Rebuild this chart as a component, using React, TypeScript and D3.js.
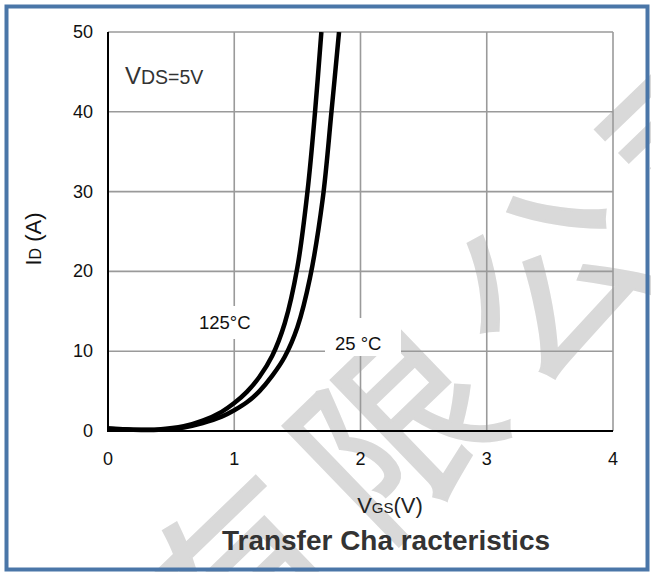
import React, { useEffect, useRef } from 'react';
import * as d3 from 'd3';

// Transfer characteristics
const vgs125 = [0, 0.2, 0.4, 0.6, 0.75, 0.9, 1.0, 1.1, 1.2, 1.3, 1.4, 1.5, 1.58, 1.64, 1.69];
const id125 = [0.3, 0.15, 0.2, 0.6, 1.3, 2.4, 3.5, 4.9, 6.8, 9.4, 13.5, 20.5, 30, 40, 50];
const vgs25 = [0, 0.2, 0.4, 0.6, 0.75, 0.9, 1.0, 1.1, 1.2, 1.3, 1.4, 1.5, 1.6, 1.7, 1.77, 1.83];
const id25 = [0.3, 0.15, 0.15, 0.45, 1.0, 1.8, 2.6, 3.6, 5.0, 6.9, 9.3, 13, 19.2, 29, 40, 50];

const xTicks = [0, 1, 2, 3, 4];
const yTicks = [0, 10, 20, 30, 40, 50];
const watermarkChars = ['有', '限', '公', '司'];

const App = () => {
    const ref = useRef<SVGSVGElement>(null);

    useEffect(() => {
        const width = 651;
        const height = 572;
        const margin = { top: 32, right: 38, bottom: 141, left: 108 };

        const svg = d3.select(ref.current);
        svg.selectAll('*').remove();

        const font = '"Liberation Sans", Arial, sans-serif';

        const x = d3.scaleLinear().domain([0, 4]).range([margin.left, width - margin.right]);
        const y = d3.scaleLinear().domain([0, 50]).range([height - margin.bottom, margin.top]);

        svg.append('rect').attr('width', width).attr('height', height).attr('fill', '#fff');

        // Watermark behind the chart
        const wm = svg.append('g').attr('fill', '#d9d9d9').attr('stroke', '#d9d9d9').attr('stroke-width', 3);
        watermarkChars.forEach((c, i) => {
            wm.append('text')
                .attr('transform', `translate(${232 + i * 155}, ${572 - i * 150}) rotate(-44)`)
                .attr('text-anchor', 'middle')
                .attr('dominant-baseline', 'central')
                .attr('font-family', '"Noto Sans CJK SC", sans-serif')
                .attr('font-size', 190)
                .text(c);
        });

        // Grid
        const grid = svg.append('g').attr('stroke', '#9a9a9a').attr('stroke-width', 1.6);
        grid.selectAll('.gx')
            .data(xTicks.slice(1))
            .enter()
            .append('line')
            .attr('x1', (d) => x(d)).attr('x2', (d) => x(d))
            .attr('y1', y(50)).attr('y2', y(0));
        grid.selectAll('.gy')
            .data(yTicks.slice(1))
            .enter()
            .append('line')
            .attr('x1', x(0)).attr('x2', x(4))
            .attr('y1', (d) => y(d)).attr('y2', (d) => y(d));

        // Axis lines
        svg.append('line').attr('x1', x(0)).attr('x2', x(0)).attr('y1', y(50)).attr('y2', y(0))
            .attr('stroke', '#000').attr('stroke-width', 2);
        svg.append('line').attr('x1', x(0) - 1).attr('x2', x(4)).attr('y1', y(0)).attr('y2', y(0))
            .attr('stroke', '#000').attr('stroke-width', 2);

        // Tick labels
        svg.append('g').selectAll('text')
            .data(yTicks)
            .enter()
            .append('text')
            .attr('x', 93).attr('y', (d) => y(d) + 6)
            .attr('text-anchor', 'end')
            .attr('font-family', font).attr('font-size', 18).attr('fill', '#111')
            .text((d) => d);
        svg.append('g').selectAll('text')
            .data(xTicks)
            .enter()
            .append('text')
            .attr('x', (d) => x(d)).attr('y', 465)
            .attr('text-anchor', 'middle')
            .attr('font-family', font).attr('font-size', 18).attr('fill', '#111')
            .text((d) => d);

        // Curve labels (white box breaks the grid)
        svg.append('rect').attr('x', 194).attr('y', 306).attr('width', 62).attr('height', 33).attr('fill', '#fff');
        svg.append('rect').attr('x', 325).attr('y', 318).attr('width', 76).attr('height', 38).attr('fill', '#fff');
        svg.append('text').attr('x', 199).attr('y', 329).attr('font-family', font).attr('font-size', 18.5)
            .attr('fill', '#111').text('125°C');
        svg.append('text').attr('x', 335).attr('y', 350).attr('font-family', font).attr('font-size', 18.5)
            .attr('fill', '#111').text('25 °C');

        // Curves
        const line = d3.line<[number, number]>()
            .x((d) => x(d[0]))
            .y((d) => y(d[1]))
            .curve(d3.curveCatmullRom.alpha(0.5));
        svg.append('clipPath').attr('id', 'plot-clip')
            .append('rect')
            .attr('x', x(0)).attr('y', y(50))
            .attr('width', x(4) - x(0)).attr('height', y(0) - y(50) + 3);
        const curves = [
            vgs125.map((v, i) => [v, id125[i]] as [number, number]),
            vgs25.map((v, i) => [v, id25[i]] as [number, number]),
        ];
        svg.append('g').attr('clip-path', 'url(#plot-clip)')
            .selectAll('path')
            .data(curves)
            .enter()
            .append('path')
            .attr('d', line)
            .attr('fill', 'none')
            .attr('stroke', '#000')
            .attr('stroke-width', 4.5)
            .attr('stroke-linejoin', 'round');

        // VDS note
        const note = svg.append('text').attr('x', 125).attr('y', 84).attr('font-family', font).attr('fill', '#333');
        note.append('tspan').attr('font-size', 24).text('V');
        note.append('tspan').attr('font-size', 19.5).text('DS=5V');

        // Axis titles
        const xl = svg.append('text').attr('x', 390).attr('y', 513).attr('text-anchor', 'middle')
            .attr('font-family', font).attr('fill', '#222');
        xl.append('tspan').attr('font-size', 22).text('V');
        xl.append('tspan').attr('font-size', 15).text('GS');
        xl.append('tspan').attr('font-size', 22).text('(V)');

        const yl = svg.append('text').attr('transform', 'translate(41, 239) rotate(-90)').attr('text-anchor', 'middle')
            .attr('font-family', font).attr('fill', '#111');
        yl.append('tspan').attr('font-size', 22).text('I');
        yl.append('tspan').attr('font-size', 16).text('D');
        yl.append('tspan').attr('font-size', 22).text(' (A)');

        svg.append('text').attr('x', 386).attr('y', 550).attr('text-anchor', 'middle')
            .attr('font-family', '"Liberation Sans Narrow", "Liberation Sans", Arial, sans-serif')
            .attr('font-weight', 'bold').attr('font-size', 28).attr('fill', '#333')
            .attr('textLength', 328).attr('lengthAdjust', 'spacingAndGlyphs')
            .text('Transfer Cha racteristics');

        // Frame
        svg.append('rect').attr('x', 6.5).attr('y', 6.5).attr('width', 641).attr('height', 563)
            .attr('fill', 'none').attr('stroke', '#4a76a8').attr('stroke-width', 4);
    }, []);

    return (
        <svg ref={ref} width={651} height={572} style={{ position: 'absolute', left: 0, top: 0 }} />
    );
};

export default App;
